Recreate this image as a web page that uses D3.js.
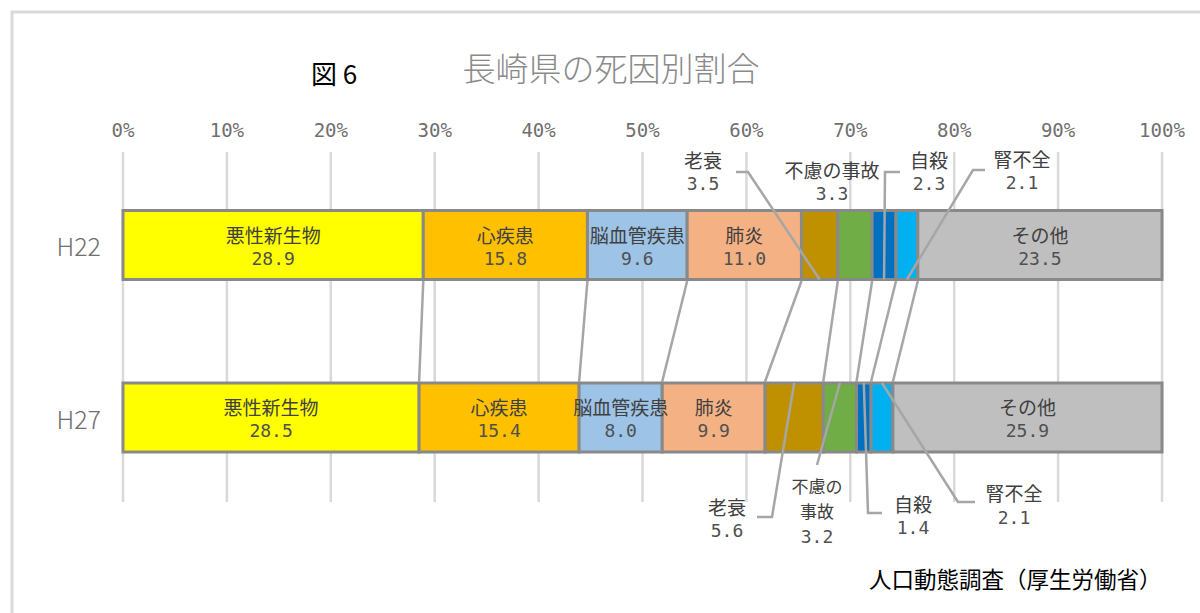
<!DOCTYPE html>
<html>
<head>
<meta charset="utf-8">
<script src="https://cdn.jsdelivr.net/npm/d3@7"></script>
<style>
  body { margin: 0; background: #fff; }
  text { font-family: "Noto Sans CJK JP", sans-serif; }
  .num { font-family: "DejaVu Sans Mono", monospace; }
</style>
</head>
<body>
<div id="chart"></div>
<script>
// Data
const categories = ["H22", "H27"];
const causes = ["悪性新生物", "心疾患", "脳血管疾患", "肺炎", "老衰", "不慮の事故", "自殺", "腎不全", "その他"];
const valuesH22 = [28.9, 15.8, 9.6, 11.0, 3.5, 3.3, 2.3, 2.1, 23.5];
const valuesH27 = [28.5, 15.4, 8.0, 9.9, 5.6, 3.2, 1.4, 2.1, 25.9];
const colors = ["#ffff00", "#ffc000", "#9dc3e6", "#f4b183", "#bf9000", "#70ad47", "#0070c0", "#00b0f0", "#bfbfbf"];
const tickValues = [0, 10, 20, 30, 40, 50, 60, 70, 80, 90, 100];

const width = 1200, height = 613;
const barH = 69;

const svg = d3.select("#chart").append("svg")
    .attr("width", width)
    .attr("height", height);

// outer frame
svg.append("rect")
    .attr("x", 12).attr("y", 12)
    .attr("width", 1210).attr("height", 620)
    .attr("fill", "none")
    .attr("stroke", "#d9d9d9")
    .attr("stroke-width", 3);

const x = d3.scaleLinear().domain([0, 100]).range([123, 1162]);
const y = d3.scalePoint().domain(categories).range([245, 417.5]);

// build table for the stack
const table = categories.map((c, i) => {
    const row = { year: c };
    const vals = i === 0 ? valuesH22 : valuesH27;
    causes.forEach((k, j) => row[k] = vals[j]);
    return row;
});
const series = d3.stack().keys(causes)(table);

// gridlines
svg.append("g").selectAll("line")
    .data(tickValues)
    .enter().append("line")
    .attr("x1", d => x(d)).attr("x2", d => x(d))
    .attr("y1", 152).attr("y2", 502)
    .attr("stroke", "#d9d9d9")
    .attr("stroke-width", 2.5);

// top axis labels
svg.append("g").selectAll("text")
    .data(tickValues)
    .enter().append("text")
    .attr("class", "num")
    .attr("x", d => x(d))
    .attr("y", 130)
    .attr("text-anchor", "middle")
    .attr("dominant-baseline", "central")
    .attr("font-size", 19)
    .attr("fill", "#6f6f6f")
    .text(d => d + "%");

// category labels
svg.append("g").selectAll("text")
    .data(categories)
    .enter().append("text")
    .attr("x", 101)
    .attr("y", d => y(d))
    .attr("text-anchor", "end")
    .attr("dominant-baseline", "central")
    .attr("font-size", 25)
    .attr("font-weight", 300)
    .attr("fill", "#6f6f6f")
    .text(d => d);

// bars
const layer = svg.append("g").selectAll("g")
    .data(series)
    .enter().append("g")
    .attr("fill", (d, i) => colors[i]);

layer.selectAll("rect")
    .data(d => d)
    .enter().append("rect")
    .attr("x", d => x(d[0]))
    .attr("y", d => y(d.data.year) - barH / 2)
    .attr("width", d => x(d[1]) - x(d[0]))
    .attr("height", barH)
    .attr("stroke", "#898989")
    .attr("stroke-width", 3);

// series lines between the two bars
const yTopBottom = y("H22") + barH / 2 + 1.5;
const yBotTop = y("H27") - barH / 2 - 1.5;
svg.append("g").selectAll("line")
    .data(series.slice(0, -1))
    .enter().append("line")
    .attr("x1", d => x(d[0][1]))
    .attr("y1", yTopBottom)
    .attr("x2", d => x(d[1][1]))
    .attr("y2", yBotTop)
    .attr("stroke", "#a6a6a6")
    .attr("stroke-width", 2.5);

const fmt = d3.format(".1f");

// labels inside the bars
const inside = ["悪性新生物", "心疾患", "脳血管疾患", "肺炎", "その他"];
series.filter(s => inside.includes(s.key)).forEach(s => {
    s.forEach(d => {
        const cx = x((d[0] + d[1]) / 2);
        const cy = y(d.data.year);
        svg.append("text")
            .attr("x", cx).attr("y", cy - 11)
            .attr("text-anchor", "middle")
            .attr("dominant-baseline", "central")
            .attr("font-size", 19)
            .attr("fill", "#404040")
            .text(s.key);
        svg.append("text")
            .attr("class", "num")
            .attr("x", cx).attr("y", cy + 13)
            .attr("text-anchor", "middle")
            .attr("dominant-baseline", "central")
            .attr("font-size", 18)
            .attr("fill", "#505050")
            .text(fmt(d[1] - d[0]));
    });
});

// labels outside the bars, with leader lines
const outside = {
    "H22|老衰": { cx: 703, lines: ["老衰"], ys: [159, 183], fs: 19, lead: [[736, 172], [748, 172]] },
    "H22|不慮の事故": { cx: 832, lines: ["不慮の事故"], ys: [169, 193], fs: 19, lead: null },
    "H22|自殺": { cx: 929, lines: ["自殺"], ys: [159, 183], fs: 19, lead: [[900, 172], [885, 172]] },
    "H22|腎不全": { cx: 1022, lines: ["腎不全"], ys: [158, 182], fs: 19, lead: [[985, 170], [973, 170]] },
    "H27|老衰": { cx: 727, lines: ["老衰"], ys: [506, 530], fs: 19, lead: [[757, 517], [772, 517]] },
    "H27|不慮の事故": { cx: 817, lines: ["不慮の", "事故"], ys: [485, 510, 536], fs: 17, lead: [[817, 465], [817, 465]] },
    "H27|自殺": { cx: 913, lines: ["自殺"], ys: [503, 527], fs: 19, lead: [[882, 513], [868, 513]] },
    "H27|腎不全": { cx: 1014, lines: ["腎不全"], ys: [492, 517], fs: 19, lead: [[975, 502], [958, 502]] }
};

const lineGen = d3.line();
series.forEach(s => {
    s.forEach(d => {
        const key = d.data.year + "|" + s.key;
        const o = outside[key];
        if (!o) return;
        const top = d.data.year === "H22";
        const endX = x((d[0] + d[1]) / 2);
        const endY = top ? y(d.data.year) + barH / 2 : y(d.data.year) - barH / 2;
        if (o.lead) {
            svg.append("path")
                .attr("d", lineGen([o.lead[0], o.lead[1], [endX, endY]]))
                .attr("fill", "none")
                .attr("stroke", "#a6a6a6")
                .attr("stroke-width", 2.5);
        }
        o.lines.forEach((t, i) => {
            svg.append("text")
                .attr("x", o.cx).attr("y", o.ys[i])
                .attr("text-anchor", "middle")
                .attr("dominant-baseline", "central")
                .attr("font-size", o.fs)
                .attr("fill", "#404040")
                .text(t);
        });
        svg.append("text")
            .attr("class", "num")
            .attr("x", o.cx).attr("y", o.ys[o.lines.length])
            .attr("text-anchor", "middle")
            .attr("dominant-baseline", "central")
            .attr("font-size", 18)
            .attr("fill", "#505050")
            .text(fmt(d[1] - d[0]));
    });
});

// titles
svg.append("text")
    .attr("x", 311).attr("y", 72)
    .attr("dominant-baseline", "central")
    .attr("font-size", 26)
    .attr("fill", "#000")
    .text("図 6");

svg.append("text")
    .attr("x", 611).attr("y", 67)
    .attr("text-anchor", "middle")
    .attr("dominant-baseline", "central")
    .attr("font-size", 33)
    .attr("font-weight", 300)
    .attr("fill", "#8a8a8a")
    .text("長崎県の死因別割合");

svg.append("text")
    .attr("x", 869).attr("y", 578)
    .attr("dominant-baseline", "central")
    .attr("font-size", 22.5)
    .attr("fill", "#000")
    .text("人口動態調査（厚生労働省）");
</script>
</body>
</html>
